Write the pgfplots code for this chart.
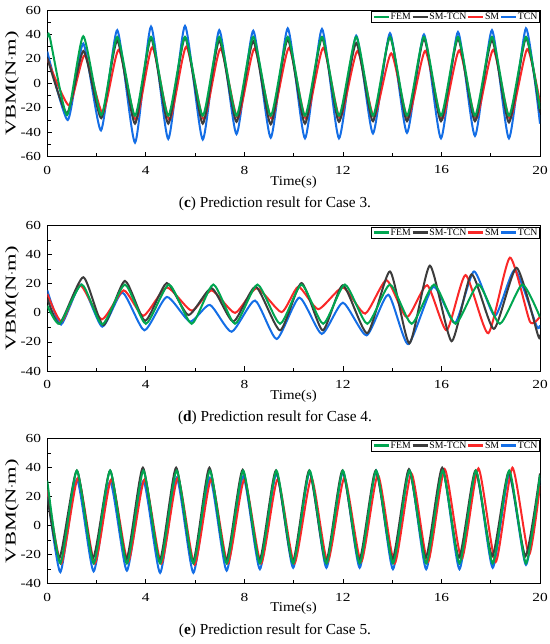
\documentclass[border=0pt]{standalone}
\usepackage{pgfplots}
\pgfplotsset{compat=1.18}
\usepackage{fontspec}
\setmainfont{Liberation Serif}
\newfontfamily\tickfont{Liberation Serif}[FakeStretch=1.25]
\newfontfamily\ylabfont{Liberation Serif}[FakeStretch=1.5]
\newfontfamily\xlabfont{Liberation Serif}[FakeStretch=1.1]
\definecolor{cfem}{RGB}{0,166,80}
\definecolor{csmtcn}{RGB}{60,60,60}
\definecolor{csm}{RGB}{250,40,40}
\definecolor{ctcn}{RGB}{20,110,230}
\pgfplotsset{
  panel/.style={
    scale only axis, width=492.7bp,
    xmin=0, xmax=20, xtick={0,4,8,12,16,20}, xticklabels={0,4,8,12,16,20},
    minor x tick num=1, minor y tick num=1,
    tick align=inside, xtick pos=left, ytick pos=left,
    major tick length=5bp, minor tick length=3.2bp,
    axis line style={line width=0.9bp},
    every tick/.style={black, line width=0.8bp},
    tick label style={font=\tickfont\fontsize{12.3bp}{12bp}\selectfont},
    xticklabel style={anchor=center, inner sep=0pt, yshift=-13.3bp},
    yticklabel style={anchor=east, inner sep=0pt, xshift=-6bp},
    xlabel={Time(s)}, ylabel={VBM(N$\cdot$m)},
    xlabel style={at={(axis description cs:0.5,-0.172)}, anchor=center, font=\xlabfont\fontsize{13.5bp}{13bp}\selectfont},
    ylabel style={at={(axis description cs:-0.0716,0.5)}, anchor=center, rotate=0, font=\ylabfont\fontsize{15bp}{15bp}\selectfont},
    legend columns=-1,
    legend style={at={(rel axis cs:1,1)}, anchor=north east, xshift=-0.7bp, yshift=-1bp,
      font=\fontsize{9.8bp}{10bp}\selectfont, inner sep=1bp, draw=black, line width=0.6bp,
      nodes={inner sep=0.6bp},
      /tikz/every even column/.append style={column sep=0pt}},
    legend image code/.code={\draw[#1, line width=2.4bp] (0bp,0bp) -- (15bp,0bp);},
    every axis plot/.append style={line width=2bp, smooth, tension=0.36, no markers},
  }
}
\begin{document}
\begin{tikzpicture}[x=1bp,y=1bp]
\path[use as bounding box] (0,0) rectangle (550,644);
% ---------------- Case 3 ----------------
\begin{axis}[panel, at={(47.3bp,487.3bp)}, anchor=south west, height=146.7bp,
  ymin=-60, ymax=60, ytick={-60,-40,-20,0,20,40,60}, yticklabels={-60,-40,-20,0,20,40,60}]
\addlegendimage{cfem}\addlegendentry{FEM}
\addlegendimage{csmtcn}\addlegendentry{SM-TCN}
\addlegendimage{csm}\addlegendentry{SM}
\addlegendimage{ctcn}\addlegendentry{TCN}
\addplot[ctcn, forget plot] coordinates {(0,26) (0.83,-30) (1.46,32.5) (2.18,-38.5) (2.84,43.5) (3.56,-48.5) (4.21,46.5) (4.91,-45.5) (5.59,47) (6.31,-46) (6.98,43.5) (7.68,-41.5) (8.36,43) (9.07,-44.5) (9.76,45) (10.46,-45) (11.15,44.5) (11.84,-45) (12.54,39) (13.22,-41) (13.91,41) (14.6,-40.5) (15.29,40) (15.98,-45) (16.67,42) (17.36,-43) (18.05,43.5) (18.74,-45) (19.43,45) (20,-33)};
\addplot[csm, forget plot] coordinates {(0,20) (0.88,-18) (1.52,23) (2.25,-24.5) (2.9,27.5) (3.6,-30) (4.26,29.5) (4.96,-30) (5.64,30) (6.35,-29.5) (7.03,28.5) (7.73,-28.5) (8.41,28.5) (9.11,-29) (9.81,29) (10.5,-29) (11.2,29) (11.88,-28.5) (12.59,26.5) (13.26,-27.5) (13.96,24.5) (14.64,-28.5) (15.34,26.5) (16.02,-29.5) (16.72,27) (17.4,-29) (18.1,27.5) (18.78,-29) (19.48,28) (20,-16)};
\addplot[csmtcn, forget plot] coordinates {(0,21) (0.8,-24.5) (1.47,26.5) (2.19,-28.5) (2.84,35) (3.56,-33) (4.21,37) (4.91,-33) (5.59,37.5) (6.31,-33) (6.98,35) (7.68,-31.5) (8.36,34.5) (9.07,-33.5) (9.76,36) (10.46,-33) (11.15,37) (11.84,-31.5) (12.54,33) (13.22,-31) (13.91,38) (14.6,-31) (15.29,36.5) (15.98,-31) (16.67,36.5) (17.36,-31) (18.05,35.5) (18.74,-32) (19.43,37) (20,-24)};
\addplot[cfem, forget plot] coordinates {(0,37.5) (0.1,38) (0.8,-26) (1.46,38.5) (2.19,-26) (2.84,38) (3.56,-26.5) (4.21,38) (4.91,-26.5) (5.59,38) (6.31,-26.5) (6.98,38) (7.68,-26.5) (8.36,38) (9.07,-26.5) (9.76,38) (10.46,-26.5) (11.15,38) (11.84,-26.5) (12.54,38) (13.22,-26.5) (13.91,38) (14.6,-26.5) (15.29,38) (15.98,-26.5) (16.67,38) (17.36,-26.5) (18.05,38) (18.74,-26.5) (19.43,38) (20,-21)};
\end{axis}
% ---------------- Case 4 ----------------
\begin{axis}[panel, at={(47.3bp,273bp)}, anchor=south west, height=145.3bp,
  ymin=-40, ymax=60, ytick={-40,-20,0,20,40,60}, yticklabels={-40,-20,0,20,40,60}]
\addlegendimage{cfem}\addlegendentry{FEM}
\addlegendimage{csmtcn}\addlegendentry{SM-TCN}
\addlegendimage{csm}\addlegendentry{SM}
\addlegendimage{ctcn}\addlegendentry{TCN}
\addplot[ctcn, forget plot] coordinates {(0,15.5) (0.56,-8) (1.37,19.5) (2.23,-9.5) (3.05,14) (3.94,-12) (4.85,11) (5.79,-6) (6.6,5.5) (7.48,-13) (8.43,8.5) (9.31,-18) (10.23,10.5) (11.14,-14.5) (12.0,7) (12.96,-15.5) (13.84,12.5) (14.65,-21.5) (15.67,18) (16.55,-7) (17.32,28.5) (18.17,-2) (18.98,29.5) (19.86,-9) (20,-8.5)};
\addplot[csm, forget plot] coordinates {(0,13) (0.58,-6) (1.33,19) (2.21,-4.5) (3.1,15.5) (3.9,-2) (4.85,17.5) (5.86,1.5) (6.67,15.5) (7.62,0) (8.5,17) (9.51,0.5) (10.19,18) (11.0,2.5) (12.0,17.5) (12.9,-0.5) (13.77,22.5) (14.59,-3) (15.42,19) (16.21,-12) (16.98,26) (17.9,-14) (18.78,38) (19.59,-6) (20,-2.5)};
\addplot[csmtcn, forget plot] coordinates {(0,10) (0.5,-7.5) (1.46,24.5) (2.27,-8.5) (3.15,22) (3.97,-5.5) (4.85,20.5) (5.73,-1.5) (6.67,17) (7.55,-6) (8.46,18) (9.45,-12) (10.32,20.5) (11.18,-12) (12.0,19) (12.99,-14) (13.91,28.5) (14.7,-21) (15.53,32.5) (16.41,-19.5) (17.22,26.5) (18.13,-11) (19.05,31) (19.92,-15.5) (20,-15)};
\addplot[cfem, forget plot] coordinates {(0,5) (0.5,-7.5) (1.4,19.5) (2.23,-8) (3.15,19.5) (4.0,-7.5) (4.94,19.5) (5.86,-7.5) (6.74,19.5) (7.62,-7.5) (8.53,19.5) (9.45,-7.5) (10.32,19.5) (11.2,-7.5) (12.08,19.5) (12.99,-7.5) (13.91,19.5) (14.79,-7.5) (15.7,19.5) (16.57,-7.5) (17.5,19.5) (18.37,-7.5) (19.28,19.5) (20,-3)};
\end{axis}
% ---------------- Case 5 ----------------
\begin{axis}[panel, at={(47.3bp,60.3bp)}, anchor=south west, height=145bp,
  ymin=-40, ymax=60, ytick={-40,-20,0,20,40,60}, yticklabels={-40,-20,0,20,40,60}]
\addlegendimage{cfem}\addlegendentry{FEM}
\addlegendimage{csmtcn}\addlegendentry{SM-TCN}
\addlegendimage{csm}\addlegendentry{SM}
\addlegendimage{ctcn}\addlegendentry{TCN}
\addplot[ctcn, forget plot] coordinates {(0,24) (0.53,-32) (1.2,32) (1.88,-31.5) (2.55,30.5) (3.23,-31) (3.9,31) (4.58,-32.5) (5.25,33) (5.93,-32.5) (6.6,33) (7.28,-31) (7.95,34) (8.63,-30) (9.3,36) (9.98,-29) (10.65,37) (11.33,-29) (12.0,37) (12.68,-29) (13.35,38) (14.03,-30) (14.7,38) (15.38,-30) (16.05,38) (16.73,-30) (17.4,37) (18.08,-29) (18.75,35) (19.43,-27) (20,33)};
\addplot[csm, forget plot] coordinates {(0,25) (0.57,-26) (1.25,33) (1.93,-26) (2.6,32) (3.28,-25) (3.95,32) (4.63,-26) (5.3,33) (5.98,-27) (6.65,32) (7.33,-26) (8.0,32) (8.68,-26) (9.35,32) (10.03,-26) (10.72,33) (11.38,-25) (12.06,33) (12.74,-25) (13.42,35) (14.1,-26) (14.78,36) (15.45,-25) (16.13,39) (16.82,-23) (17.5,39.5) (18.2,-25) (18.88,40) (19.55,-20) (20,28)};
\addplot[csmtcn, forget plot] coordinates {(0,20) (0.5,-22) (1.2,38) (1.86,-22) (2.55,38) (3.21,-23) (3.88,40) (4.56,-24) (5.23,40) (5.91,-25) (6.58,40) (7.26,-24) (7.93,38.5) (8.61,-24) (9.28,38) (9.96,-25) (10.63,38) (11.31,-25) (11.98,38) (12.66,-24) (13.33,38) (14.01,-23) (14.68,39) (15.36,-22) (16.03,40) (16.71,-22) (17.38,38) (18.06,-21) (18.73,37) (19.41,-21) (20,36)};
\addplot[cfem, forget plot] coordinates {(0,31) (0.53,-26) (1.2,38) (1.88,-26) (2.55,38) (3.23,-26) (3.9,38) (4.58,-26) (5.25,38) (5.93,-26) (6.6,38) (7.28,-26) (7.95,38) (8.63,-26) (9.3,38) (9.98,-26) (10.65,38) (11.33,-26) (12.0,38) (12.68,-26) (13.35,38) (14.03,-26) (14.7,38) (15.38,-26) (16.05,38) (16.73,-26) (17.4,38) (18.08,-26) (18.75,38) (19.43,-26) (20,35)};
\end{axis}
\node[font=\fontsize{15.3bp}{16bp}\selectfont] at (275,440.7) {(\textbf{c}) Prediction result for Case 3.};
\node[font=\fontsize{15.3bp}{16bp}\selectfont] at (275,226.4) {(\textbf{d}) Prediction result for Case 4.};
\node[font=\fontsize{15.3bp}{16bp}\selectfont] at (275,13) {(\textbf{e}) Prediction result for Case 5.};
\end{tikzpicture}
\end{document}
